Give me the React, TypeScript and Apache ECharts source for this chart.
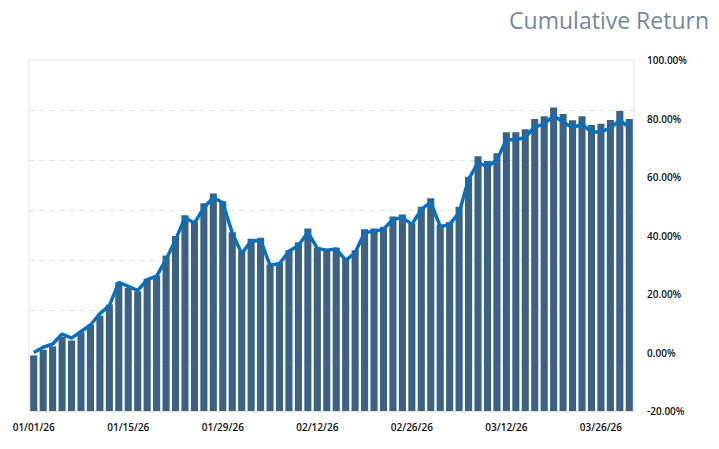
import React, { useEffect, useRef } from "react";
import * as echarts from "echarts";

const categories: string[] = [
  "01/01/26", "01/02/26", "01/05/26", "01/06/26", "01/07/26", "01/08/26", "01/09/26",
  "01/12/26", "01/13/26", "01/14/26", "01/15/26", "01/16/26",
  "01/19/26", "01/20/26", "01/21/26", "01/22/26", "01/23/26",
  "01/26/26", "01/27/26", "01/28/26", "01/29/26", "01/30/26",
  "02/02/26", "02/03/26", "02/04/26", "02/05/26", "02/06/26",
  "02/09/26", "02/10/26", "02/11/26", "02/12/26", "02/13/26",
  "02/16/26", "02/17/26", "02/18/26", "02/19/26", "02/20/26",
  "02/23/26", "02/24/26", "02/25/26", "02/26/26", "02/27/26",
  "03/02/26", "03/03/26", "03/04/26", "03/05/26", "03/06/26",
  "03/09/26", "03/10/26", "03/11/26", "03/12/26", "03/13/26",
  "03/16/26", "03/17/26", "03/18/26", "03/19/26", "03/20/26",
  "03/23/26", "03/24/26", "03/25/26", "03/26/26", "03/27/26",
  "03/30/26", "03/31/26",
];

// Bars (percent)
const barValues: number[] = [
  -1.0, 0.9, 2.1, 5.3, 4.1, 6.9, 9.5, 12.6, 16.4, 24.0,
  22.1, 20.9, 25.2, 26.3, 33.2, 39.8, 46.9, 44.5, 51.0, 54.4,
  51.7, 41.1, 34.6, 38.9, 39.2, 30.1, 30.6, 35.0, 37.7, 42.4,
  35.8, 35.3, 35.8, 31.9, 35.0, 42.1, 42.4, 43.0, 46.5, 47.2,
  44.1, 49.8, 52.7, 43.8, 44.6, 49.8, 60.1, 67.1, 65.5, 68.1,
  75.3, 75.3, 76.3, 79.8, 80.8, 83.8, 81.5, 79.4, 80.8, 77.8,
  78.2, 79.5, 82.6, 79.8,
];

// Line (percent)
const lineValues: number[] = [
  0.0, 1.8, 2.9, 6.3, 4.9, 7.2, 9.4, 13.3, 16.0, 24.0,
  22.6, 21.2, 24.9, 26.1, 31.8, 38.5, 46.2, 44.2, 49.5, 53.0,
  51.2, 40.9, 33.8, 38.1, 38.3, 29.8, 30.4, 34.6, 36.6, 41.1,
  35.6, 35.0, 35.4, 31.5, 34.1, 41.0, 41.4, 42.1, 45.6, 46.1,
  43.8, 48.9, 51.4, 43.0, 43.8, 47.8, 59.2, 64.9, 63.5, 65.8,
  72.7, 72.7, 73.6, 77.1, 78.1, 81.0, 78.8, 76.8, 78.1, 75.3,
  75.5, 76.7, 79.5, 76.9,
];

const titleText = "Cumulative Return";
const axisMin = -20;
const axisMax = 100;

export default function App() {
  const ref = useRef<HTMLDivElement>(null);
  useEffect(() => {
    if (!ref.current) return;
    const chart = echarts.init(ref.current, undefined, { renderer: "svg" });
    const labelFont = {
      fontFamily: "Open Sans",
      fontSize: 10,
      fontWeight: 600,
      color: "#111",
    };
    chart.setOption({
      animation: false,
      backgroundColor: "#fff",
      title: {
        text: titleText,
        right: 5,
        top: 3,
        textStyle: {
          fontFamily: "Open Sans",
          fontSize: 23,
          fontWeight: "normal",
          color: "#7489a1",
        },
      },
      grid: {
        left: 29,
        right: 85,
        top: 60,
        bottom: 38,
        show: true,
        borderColor: "#e4e4e4",
        borderWidth: 1,
        containLabel: false,
      },
      xAxis: {
        type: "category",
        data: categories,
        axisTick: { show: false },
        axisLine: { show: true, lineStyle: { color: "#e4e4e4" } },
        axisLabel: { ...labelFont, interval: 9, margin: 11 },
        splitLine: { show: false },
      },
      yAxis: [
        {
          type: "value",
          position: "left",
          min: 0,
          max: 7,
          interval: 1,
          axisLabel: { show: false },
          axisLine: { show: false },
          axisTick: { show: false },
          splitLine: {
            show: true,
            showMinLine: false,
            showMaxLine: false,
            lineStyle: { color: "#e4e4e4", type: [6, 4], width: 1 },
          },
        },
        {
          type: "value",
          position: "right",
          min: axisMin,
          max: axisMax,
          interval: 20,
          axisLine: { show: false },
          axisTick: { show: false },
          splitLine: { show: false },
          axisLabel: {
            ...labelFont,
            margin: 13,
            formatter: (v: number) => v.toFixed(2) + "%",
          },
        },
        {
          // hidden axis so that bars grow from the bottom of the plot
          type: "value",
          show: false,
          min: 0,
          max: axisMax - axisMin,
          splitLine: { show: false },
        },
      ],
      series: [
        {
          type: "bar",
          yAxisIndex: 2,
          data: barValues.map((v) => v - axisMin),
          barCategoryGap: "25%",
          itemStyle: { color: "#3b6283" },
        },
        {
          type: "line",
          yAxisIndex: 1,
          data: lineValues,
          showSymbol: false,
          symbol: "none",
          lineStyle: { color: "#0a70bd", width: 3.5 },
          z: 3,
        },
      ],
    });
    return () => chart.dispose();
  }, []);
  return (
    <div
      ref={ref}
      style={{ position: "fixed", left: 0, top: 0, width: 719, height: 449 }}
    />
  );
}
